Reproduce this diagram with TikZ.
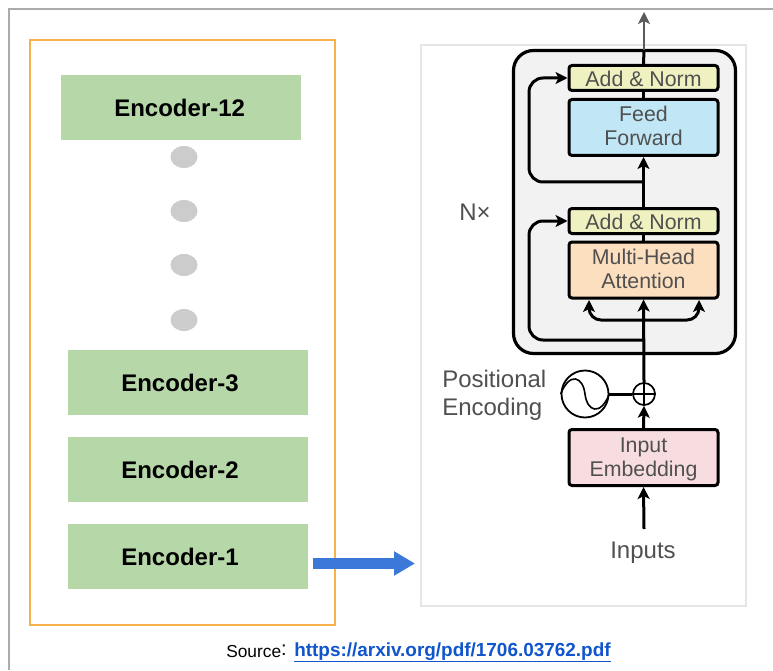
\documentclass[tikz,border=0pt]{standalone}
\usepackage{fontspec}
\setmainfont{Liberation Sans}
\usetikzlibrary{arrows.meta,shapes.geometric}
\def\px{0.75pt}
\newcommand{\lowertxt}[2]{\raisebox{0pt}[\dimexpr\height+#1*2\relax][\depth]{#2}}
\newcommand{\twolines}[2]{\begin{tabular}{@{}c@{}}#1\\[0pt]#2\end{tabular}}
\definecolor{encgreen}{HTML}{B6D7A8}
\definecolor{orangeframe}{HTML}{F6B14A}
\definecolor{dotgray}{HTML}{CCCCCC}
\definecolor{framegray}{HTML}{ABABAB}
\definecolor{panelline}{HTML}{E6E6E6}
\definecolor{blockgray}{HTML}{F2F2F2}
\definecolor{normyellow}{HTML}{EFF2C0}
\definecolor{ffblue}{HTML}{C1E6F5}
\definecolor{mhaorange}{HTML}{FCDFBF}
\definecolor{embpink}{HTML}{F8DDE0}
\definecolor{txtgray}{HTML}{505050}
\definecolor{arrowblue}{HTML}{3C78D8}
\definecolor{linkblue}{HTML}{1155CC}
\definecolor{topgray}{HTML}{5A5A5A}
\tikzset{
  x=0.75pt,y=-0.75pt,
  encbox/.style={fill=encgreen,draw=none,minimum width=240*\px,minimum height=65*\px,inner sep=0pt,font=\fontsize{18}{21}\selectfont\bfseries},
  dotnode/.style={ellipse,fill=dotgray,draw=none,minimum width=27*\px,minimum height=22*\px,inner sep=0pt},
  block/.style={draw=black,line width=3*\px,rounded corners=3*\px,minimum width=149*\px,inner sep=0pt,align=center,text=txtgray,font=\fontsize{16}{18}\selectfont},
  lbl/.style={text=txtgray,inner sep=0pt,align=left,font=\fontsize{18}{21}\selectfont},
  conn/.style={draw=black,line width=3*\px},
  tip/.style={-{Stealth[length=12*\px,width=12*\px,inset=3*\px]}},
}
\begin{document}
\begin{tikzpicture}
\useasboundingbox[fill=white] (0,0) rectangle (773,670);
% outer frame
\coordinate (fa) at (9,670);
\coordinate (fb) at (9,9);
\coordinate (fc) at (773,9);
\draw[framegray,line width=1.5*\px] (fa) -- (fb) -- (fc);
% left panel
\node[draw=orangeframe,line width=1.5*\px,minimum width=305*\px,minimum height=585*\px,inner sep=0pt] (leftpanel) at (182.5,332.5) {};
\node[encbox] (e12) at (181,107.5) {Encoder-12\hspace*{2pt}};
\node[dotnode] (d1) at (184,157) {};
\node[dotnode] (d2) at (184,211) {};
\node[dotnode] (d3) at (184,265) {};
\node[dotnode] (d4) at (184,320) {};
\node[encbox] (e3) at (188,382.5) {Encoder-3\hspace*{12pt}};
\node[encbox] (e2) at (188,469.5) {Encoder-2\hspace*{12pt}};
\node[encbox] (e1) at (188,556.5) {Encoder-1\hspace*{12pt}};
% right panel
\node[draw=panelline,line width=1.2*\px,fill=white,minimum width=325*\px,minimum height=561*\px,inner sep=0pt] (rightpanel) at (583.5,325.5) {};
\node[draw=black,fill=blockgray,line width=3.2*\px,rounded corners=20*\px,minimum width=222*\px,minimum height=303*\px,inner sep=0pt] (stack) at (624.5,202) {};
\node[block,fill=normyellow,minimum height=25*\px] (an2) at (643.5,78) {\lowertxt{0.4pt}{Add \& Norm}};
\node[block,fill=ffblue,minimum height=56*\px] (ff) at (643.5,127.5) {\lowertxt{0.75pt}{\twolines{Feed}{Forward}}};
\node[block,fill=normyellow,minimum height=25*\px] (an1) at (643.5,221) {\lowertxt{0.4pt}{Add \& Norm}};
\node[block,fill=mhaorange,minimum height=56*\px] (mha) at (643.5,270) {\lowertxt{1.5pt}{\twolines{Multi-Head}{Attention}}};
\node[block,fill=embpink,minimum height=56*\px] (emb) at (643.5,457.5) {\lowertxt{1.5pt}{\twolines{Input}{Embedding}}};
\node[draw=black,line width=1.7*\px,circle,minimum size=22*\px,inner sep=0pt] (sum) at (644,394) {};
\node[draw=black,line width=1.8*\px,circle,minimum size=47*\px,inner sep=0pt] (pe) at (585,394) {};
\draw[black,line width=1.5*\px] (sum.west) -- (sum.east) (sum.north) -- (sum.south);
\draw[black,line width=1.6*\px] (pe.west) .. controls (570,371) and (583,377) .. (pe.center) .. controls (587,411) and (600,417) .. (pe.east);
\node[lbl,anchor=west] (pelabel) at (442,395) {Positional\\Encoding};
\node[lbl] (nx) at (475,212.5) {N×};
\node[lbl] (inputs) at (643,552.5) {Inputs};
% connectors
\coordinate (top) at (644,12);
\coordinate (stacktop) at (644,50);
\coordinate (inp) at (644,529);
\coordinate (b2) at (644,182);
\coordinate (b1) at (644,340);
\coordinate (b0) at (644,320);
\coordinate (sl) at (589,300);
\coordinate (sr) at (699,300);
\draw[conn] (an2.north) -- (stacktop);
\draw[topgray,line width=2.4*\px,tip] (stacktop) -- (top);
\draw[conn] (an2.south) -- (ff.north);
\draw[conn,tip] (an1.north) -- (ff.south);
\draw[conn] (an1.south) -- (mha.north);
\draw[conn,tip] (sum.north) -- (mha.south);
\draw[conn,tip] (emb.north) -- (sum.south);
\draw[conn,tip] (inp) -- (emb.south);
\draw[conn] (pe.east) -- (sum.west);
\draw[conn,tip,rounded corners=14*\px] (b2) -| (529,78) -- (an2.west);
\draw[conn,tip,rounded corners=14*\px] (b1) -| (529,221) -- (an1.west);
\draw[conn,tip,rounded corners=12*\px] (b0) -| (sl);
\draw[conn,tip,rounded corners=12*\px] (b0) -| (sr);
% blue arrow
\coordinate (ba) at (313,563.5);
\coordinate (bb) at (415,563.5);
\draw[arrowblue,line width=11.5*\px,-{Triangle[length=21*\px,width=23*\px]}] (ba) -- (bb);
% source
\node[inner sep=0pt,anchor=west,font=\fontsize{13}{15}\selectfont] (src) at (226,651) {Source\raisebox{1.5pt}{\fontsize{15}{15}\selectfont:}};
\node[inner sep=0pt,anchor=west,text=linkblue,font=\fontsize{14.2}{17}\selectfont\bfseries] (url) at (294,651.5) {https://arxiv.org/pdf/1706.03762.pdf};
\draw[linkblue,line width=1.2*\px] ([yshift=-0.5*\px]url.south west) -- ([yshift=-0.5*\px]url.south east);
\end{tikzpicture}
\end{document}
